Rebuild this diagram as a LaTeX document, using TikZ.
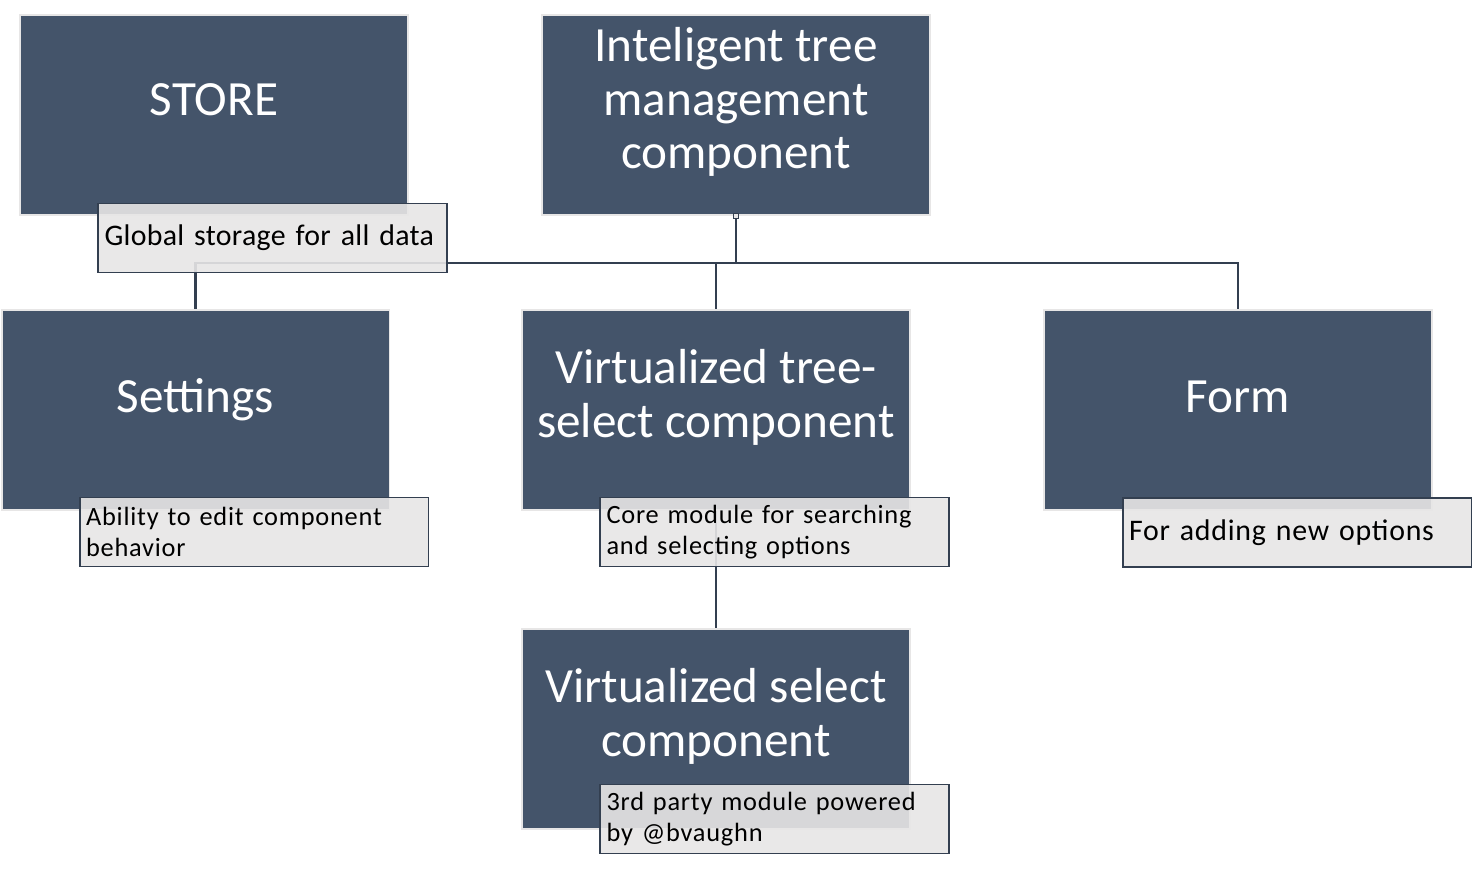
\documentclass[tikz,border=0pt]{standalone}
\usepackage{fontspec}
\setmainfont{Carlito}
\usepackage{tikz}
\usetikzlibrary{positioning}
\definecolor{slate(blue)}{HTML}{44546A}
\definecolor{slate(dark)}{HTML}{333F50}
\definecolor{platinum}{HTML}{E7E6E6}
\tikzset {
        boxnode/.style={rectangle, inner sep=0pt, draw=platinum, line width=1.1pt, fill=slate(blue), minimum width=7.76cm, minimum height=4cm},
        titlenode/.style={align=center, inner sep=0pt, white, font=\fontsize{28}{30.6}\selectfont},
        notenode/.style={align=left, rectangle, draw=slate(dark), line width=1.1pt, fill=platinum, fill opacity=0.9, text opacity=1, inner xsep=0.13cm, inner ysep=0pt, text width=6.72cm, minimum height=1.38cm},
        smallnote/.style={font=\fontsize{15}{17.6}\selectfont\addfontfeature{LetterSpace=3}},
        bignote/.style={font=\fontsize{17}{20}\selectfont\addfontfeature{LetterSpace=2.5}},
        linkline/.style={draw=slate(dark), line width=1.2pt},
        default/.style={}
}

\begin{document}
\begin{tikzpicture}[x=0.02cm, y=-0.02cm]
            \useasboundingbox (0,0) rectangle (1473,869);
            \node[boxnode] (Store) at (214,115) {};
            \node[boxnode] (TreeManager) at (736,115) {};
            \node[boxnode] (Settings) at (195.5,410) {};
            \node[boxnode] (TreeSelect) at (716,410) {};
            \node[boxnode] (Form) at (1238,410) {};
            \node[boxnode] (VirtualSelect) at (716,729) {};

            \node[titlenode] (StoreTitle) at ([yshift=0.3cm]Store.center) {STORE};
            \node[titlenode] (TreeManagerTitle) at ([yshift=0.26cm]TreeManager.center) {Inteligent tree\\management\\component};
            \node[titlenode] (SettingsTitle) at ([yshift=0.2cm]Settings.center) {Settings};
            \node[titlenode] (TreeSelectTitle) at ([yshift=0.26cm]TreeSelect.center) {Virtualized tree-\\select component};
            \node[titlenode] (FormTitle) at ([yshift=0.26cm]Form.center) {Form};
            \node[titlenode] (VirtualSelectTitle) at ([yshift=0.26cm]VirtualSelect.center) {Virtualized select\\component};

            % connectors
            \coordinate (Bus) at (736,263);
            \draw[linkline] (TreeManager.south) -- (TreeManager.south |- Bus) -| (Settings.north);
            \draw[linkline] (TreeManager.south |- Bus) -| (TreeSelect.north);
            \draw[linkline] (TreeManager.south |- Bus) -| (Form.north);
            \draw[linkline] (TreeSelect.south) -- (VirtualSelect.north);
            \node[draw=slate(dark), fill=platinum, line width=0.6pt, inner sep=0pt, minimum size=0.1cm] (Handle) at (TreeManager.south) {};

            % notes
            \node[notenode, font=\fontsize{17}{20}\selectfont\addfontfeature{LetterSpace=1}] (StoreNote) at (272.5,238) {\mbox{Global storage for all data}};
            \node[notenode, smallnote] (SettingsNote) at (254,532) {Ability to edit component\\behavior};
            \node[notenode, smallnote] (TreeSelectNote) at (774.5,532) {Core module for searching\\and selecting options};
            \node[notenode, bignote] (FormNote) at (1297,532.5) {For adding new options};
            \node[notenode, smallnote] (VirtualSelectNote) at (774.5,819) {3rd party module powered\\by @bvaughn};
        \end{tikzpicture}
\end{document}
